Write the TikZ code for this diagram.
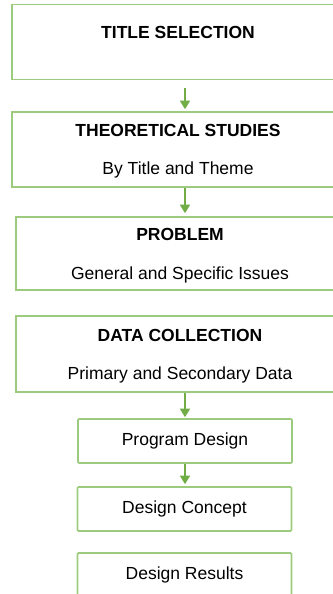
\documentclass[tikz,border=0pt]{standalone}
\usepackage{fontspec}
\setmainfont{Liberation Sans}
\usetikzlibrary{arrows.meta}

\definecolor{boxgreen}{HTML}{9CCB7E}
\definecolor{arrowgreen}{HTML}{70AD47}

\newcommand{\tallline}{\rule{0pt}{16.5pt}}

\tikzset{
  bigbox/.style={draw=boxgreen,line width=1.6pt,minimum width=332pt,minimum height=75pt,
    align=center,font=\fontsize{17.5}{21}\selectfont,inner sep=0pt},
  smallbox/.style={draw=boxgreen,line width=1.6pt,rounded corners=1pt,minimum width=214pt,minimum height=44pt,
    font=\fontsize{17.5}{21}\selectfont,inner sep=0pt},
  flow/.style={draw=arrowgreen,line width=1.6pt,-{Triangle[width=10pt,length=8.5pt]}}
}

\begin{document}
\begin{tikzpicture}[x=1pt,y=-1pt]

\useasboundingbox (0,0) rectangle (332,594);

% main stages
\node[bigbox,text height=12pt,text depth=18pt] (title) at (178,42) {\textbf{TITLE SELECTION}};
\node[bigbox] (theory) at (178,149.5) {\tallline\textbf{THEORETICAL STUDIES}\\[17pt]By Title and Theme};
\node[bigbox,minimum width=328pt,minimum height=73pt] (problem) at (180,253.5) {\tallline\textbf{PROBLEM}\\[18pt]General and Specific Issues};
\node[bigbox,minimum width=328pt,minimum height=76pt] (data) at (180,354) {\tallline\textbf{DATA COLLECTION}\\[17pt]Primary and Secondary Data};

% design stages
\node[smallbox] (program) at (185,441) {Program Design};
\node[smallbox] (concept) at (184.5,509) {Design Concept};
\node[smallbox] (results) at (184.5,575) {Design Results};

% arrows
\coordinate (axis) at (185,0);
\draw[flow,shorten <=8pt,shorten >=2pt] (title.south -| axis) -- (theory.north -| axis);
\draw[flow,shorten >=3pt] (theory.south -| axis) -- (problem.north -| axis);
\draw[flow,shorten >=1pt] (data.south -| axis) -- (program.north -| axis);
\draw[flow,shorten >=2pt] (program.south -| axis) -- (concept.north -| axis);

\end{tikzpicture}
\end{document}
